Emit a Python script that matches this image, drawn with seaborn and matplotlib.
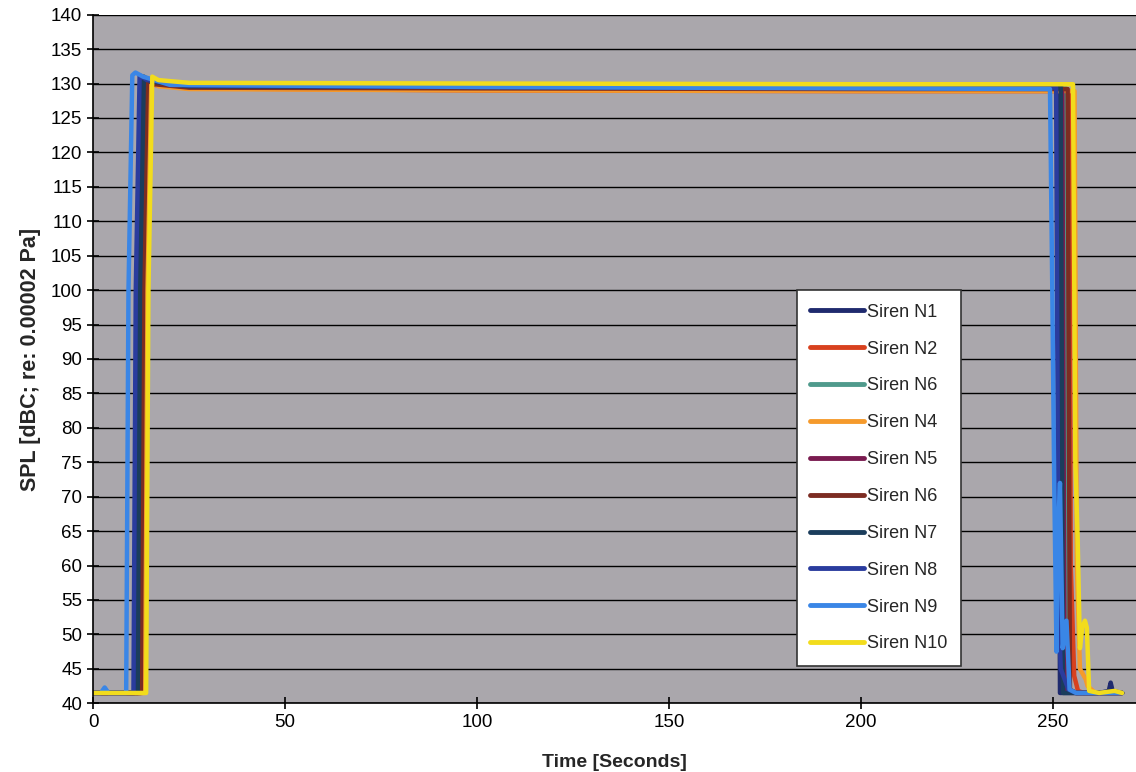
import numpy as np
import pandas as pd
import seaborn as sns
import matplotlib.pyplot as plt

# --- data (time in s, SPL in dBC) ---
labels = ["Siren N1", "Siren N2", "Siren N6", "Siren N4", "Siren N5",
          "Siren N6", "Siren N7", "Siren N8", "Siren N9", "Siren N10"]
colors = ["#1f2a6e", "#d8411e", "#4f9a8c", "#f59a2c", "#7a1c50",
          "#7c2c22", "#1b3d5c", "#2a3c9e", "#3a86e6", "#f2dc1c"]

t_n1 = [0, 10.8, 11.4, 12.4, 14, 20, 100, 200, 251.2, 251.8, 253.5, 258, 262, 264.5, 265, 265.5, 268]
y_n1 = [41.5, 41.5, 100, 131, 130.5, 129.8, 129.5, 129.4, 129.3, 41.5, 41.5, 41.5, 41.5, 41.8, 43, 41.8, 41.5]

t_n2 = [0, 12.8, 13.4, 14.3, 16, 25, 100, 200, 254.3, 254.6, 255, 255.5, 256.5, 258, 268]
y_n2 = [41.5, 41.5, 100, 130.5, 129.8, 129.3, 129.0, 128.9, 128.9, 60, 53, 44, 41.8, 41.5, 41.5]

t_n6a = [0, 12.6, 13.2, 14.2, 16, 25, 100, 200, 253.3, 253.9, 256, 268]
y_n6a = [41.5, 41.5, 100, 130.8, 130, 129.5, 129.4, 129.3, 129.3, 42, 41.5, 41.5]

t_n4 = [0, 13.4, 14.0, 15.0, 17, 25, 100, 200, 255.6, 256.2, 257, 258.5, 259, 261, 268]
y_n4 = [41.5, 41.5, 100, 130.5, 129.6, 129.2, 129.0, 128.9, 128.9, 60, 45, 43.5, 42.5, 41.5, 41.5]

t_n5 = [0, 12.0, 12.6, 13.6, 16, 25, 100, 200, 252.4, 253.0, 256, 268]
y_n5 = [41.5, 41.5, 100, 130.8, 130, 129.5, 129.4, 129.3, 129.3, 42, 41.5, 41.5]

t_n6b = [0, 12.4, 13.0, 14.0, 16, 25, 100, 200, 253.8, 254.4, 256, 268]
y_n6b = [41.5, 41.5, 100, 130.5, 129.9, 129.4, 129.3, 129.2, 129.2, 42, 41.5, 41.5]

t_n7 = [0, 11.6, 12.2, 13.2, 15, 25, 100, 200, 252.0, 252.6, 255, 268]
y_n7 = [41.5, 41.5, 100, 131, 130.3, 129.6, 129.5, 129.4, 129.4, 41.5, 41.5, 41.5]

t_n8 = [0, 10.5, 11.1, 12.1, 14, 25, 100, 200, 250.8, 251.4, 252, 254, 256, 268]
y_n8 = [41.5, 41.5, 100, 131.2, 130.5, 129.7, 129.5, 129.4, 129.4, 55, 45, 42, 41.5, 41.5]

t_n9 = [0, 2, 3, 4, 8.6, 9.2, 10.2, 11, 13, 20, 100, 200, 249.2, 249.8, 250.3, 250.9, 251.3, 251.8, 252.5, 253.5, 254.3, 256, 268]
y_n9 = [41.5, 41.5, 42.3, 41.5, 41.5, 100, 131.2, 131.6, 131, 129.8, 129.5, 129.3, 129.2, 100, 72, 47.5, 65, 72, 48, 52, 42, 41.5, 41.5]

t_n10 = [0, 13.8, 14.4, 15.4, 17, 25, 100, 200, 255.2, 255.8, 256.4, 257.0, 257.6, 258.3, 258.8, 259.4, 262, 266, 268]
y_n10 = [41.5, 41.5, 100, 131, 130.5, 130.1, 130.0, 129.9, 129.9, 75, 64, 48, 51, 52, 51, 41.8, 41.5, 41.8, 41.5]

series_t = [t_n1, t_n2, t_n6a, t_n4, t_n5, t_n6b, t_n7, t_n8, t_n9, t_n10]
series_y = [y_n1, y_n2, y_n6a, y_n4, y_n5, y_n6b, y_n7, y_n8, y_n9, y_n10]

sns.set_style("ticks")
plt.rcParams['font.family'] = ['Liberation Sans', 'DejaVu Sans']

fig = plt.figure(figsize=(11.36, 7.72), dpi=100)
ax = fig.add_axes([0.082, 0.089, 0.918, 0.892])
ax.set_facecolor("#aaa7ac")

for lab, col, tt, yy in zip(labels, colors, series_t, series_y):
    sns.lineplot(x=tt, y=yy, ax=ax, color=col, lw=3.2, label=lab,
                 sort=False, estimator=None)

ax.set_xlim(0, 271.6)
ax.set_ylim(40, 140)
ax.set_yticks(np.arange(40, 141, 5))
ax.set_xticks(np.arange(0, 251, 50))
ax.yaxis.grid(True, color="black", lw=1.0)
ax.xaxis.grid(False)
ax.set_axisbelow(True)
for s in ["top", "right"]:
    ax.spines[s].set_visible(False)
for s in ["left", "bottom"]:
    ax.spines[s].set_color("black")
    ax.spines[s].set_linewidth(1.2)
ax.tick_params(axis="both", direction="inout", length=8, width=1.2,
               labelsize=13.5, colors="black", pad=4)

ax.set_xlabel("Time [Seconds]", fontsize=14, fontweight="bold", labelpad=16)
ax.set_ylabel("SPL [dBC; re: 0.00002 Pa]", fontsize=15.5, fontweight="bold", labelpad=7)

leg = ax.legend(loc="upper left", bbox_to_anchor=(0.6745, 0.600),
                borderaxespad=0, fontsize=13, frameon=True, fancybox=False,
                edgecolor="#333333", framealpha=1.0, labelspacing=1.1,
                handlelength=3.0, handletextpad=0.15, borderpad=0.75)
leg.get_frame().set_linewidth(1.2)
for h in leg.get_lines():
    h.set_linewidth(3.5)

plt.savefig("out.png", dpi=100)
